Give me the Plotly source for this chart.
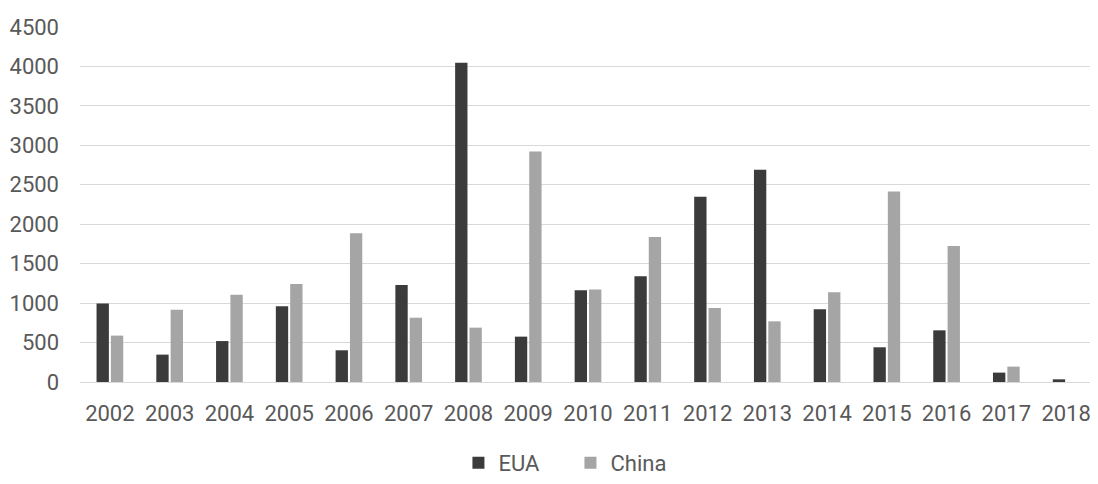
import plotly.graph_objects as go

years = [str(y) for y in range(2002, 2019)]
eua = [995, 347, 519, 959, 402, 1229, 4047, 575, 1162, 1339, 2349, 2691, 921, 440, 655, 119, 34]
china = [588, 917, 1107, 1242, 1884, 816, 689, 2923, 1171, 1837, 938, 769, 1137, 2416, 1723, 195, 0]
yticks = [0, 500, 1000, 1500, 2000, 2500, 3000, 3500, 4000, 4500]

FONT = "Roboto"
TXT = "#595959"
FS = 22

fig = go.Figure()
fig.add_trace(go.Bar(x=years, y=eua, name="EUA", marker=dict(color="#3b3b3b", line=dict(width=0))))
fig.add_trace(go.Bar(x=years, y=china, name="China", marker=dict(color="#a5a5a5", line=dict(width=0))))

# page body has an 8px margin, so the figure is sized/offset accordingly
fig.update_layout(
    width=1090, height=476,
    margin=dict(l=72, r=2, t=19, b=102),
    paper_bgcolor="white", plot_bgcolor="white",
    barmode="group", bargap=0.52, bargroupgap=0.14,
    font=dict(family=FONT, size=FS, color=TXT),
    showlegend=True,
    legend=dict(orientation="h", x=0.516, xanchor="center", xref="container",
                y=0.0, yanchor="bottom", yref="container",
                font=dict(family=FONT, size=FS, color=TXT), entrywidth=67,
                bgcolor="rgba(0,0,0,0)"),
    xaxis=dict(showgrid=False, showline=False, ticks="", tickfont=dict(size=FS, color=TXT),
               ticklabelstandoff=16, automargin=False),
    yaxis=dict(range=[0, 4500], tickvals=yticks, ticktext=[str(v) for v in yticks],
               showgrid=True, gridcolor="#d9d9d9", gridwidth=1.3, zeroline=True,
               zerolinecolor="#d9d9d9", zerolinewidth=1.3, showline=False, ticks="",
               tickfont=dict(size=FS, color=TXT), ticklabelstandoff=20, automargin=False),
)

fig.write_html("out.html")
